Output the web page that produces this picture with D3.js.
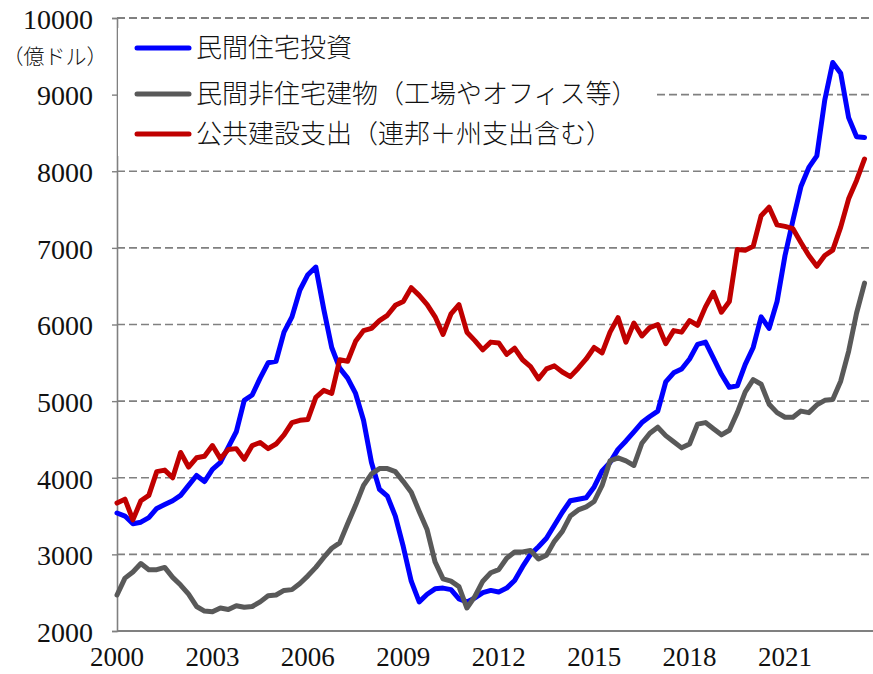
<!DOCTYPE html>
<html>
<head>
<meta charset="utf-8">
<script src="https://cdn.jsdelivr.net/npm/d3@7"></script>
<style>
  body { margin: 0; background: #fff; }
  .num { font-family: "Liberation Serif", "Times New Roman", serif; fill: #111; }
  .jp { font-family: "Noto Sans CJK JP", sans-serif; font-weight: 300; fill: #111; }
</style>
</head>
<body>
<svg id="chart" width="873" height="674"></svg>
<script>
// 四半期データ (2000年1-3月 から), 単位: 億ドル
const startYear = 2000
const perYear = 4

// 民間住宅投資
const residential = [
  3540, 3500, 3400, 3420, 3480, 3600, 3650, 3700, 3770, 3900, 4030, 3950,
  4110, 4200, 4400, 4600, 5010, 5080, 5300, 5500, 5520, 5900, 6100, 6450,
  6650, 6750, 6200, 5700, 5430, 5300, 5100, 4750, 4200, 3850, 3760, 3500,
  3100, 2650, 2380, 2480, 2550, 2560, 2540, 2420, 2380, 2430, 2500, 2530,
  2510, 2560, 2660, 2840, 3000, 3100, 3210, 3380, 3550, 3700, 3720, 3740,
  3880, 4090, 4200, 4370, 4480, 4600, 4720, 4800, 4870, 5250, 5370, 5420,
  5550, 5740, 5770, 5560, 5350, 5180, 5200, 5480, 5700, 6100, 5950, 6300,
  6900, 7360, 7800, 8050, 8200, 8930, 9420, 9280, 8700, 8450, 8440
]
// 民間非住宅建物
const nonResidential = [
  2470, 2690, 2770, 2880, 2800, 2800, 2830, 2700, 2600, 2480, 2320, 2260,
  2250, 2300, 2280, 2330, 2310, 2320, 2380, 2460, 2470, 2530, 2540, 2620,
  2720, 2830, 2960, 3080, 3150, 3400, 3640, 3900, 4050, 4120, 4120, 4080,
  3950, 3810, 3560, 3320, 2900, 2680, 2650, 2580, 2300, 2450, 2650, 2760,
  2800, 2950, 3030, 3030, 3050, 2940, 2990, 3170, 3300, 3500, 3580, 3620,
  3690, 3900, 4220, 4260, 4220, 4160, 4450, 4580, 4660, 4550, 4470, 4390,
  4440, 4700, 4720, 4640, 4560, 4620, 4850, 5120, 5280, 5220, 4960, 4850,
  4790, 4790, 4870, 4850, 4950, 5010, 5020, 5260, 5650, 6150, 6540
]
// 公共建設支出
const publicWorks = [
  3670, 3720, 3450, 3700, 3770, 4080, 4100, 4000, 4330, 4140, 4260, 4280,
  4420, 4250, 4370, 4380, 4240, 4420, 4460, 4380, 4440, 4560, 4720, 4750,
  4760, 5050, 5140, 5100, 5540, 5520, 5780, 5920, 5950, 6050, 6120, 6250,
  6300, 6480, 6380, 6260, 6100, 5870, 6140, 6260, 5900, 5790, 5670, 5770,
  5760, 5610, 5690, 5540, 5450, 5290, 5420, 5460, 5380, 5320, 5430, 5550,
  5700, 5630, 5900, 6090, 5770, 6020, 5850, 5960, 6000, 5750, 5920, 5900,
  6050, 5990, 6230, 6420, 6160, 6300, 6980, 6970, 7020, 7420, 7530, 7300,
  7280, 7250, 7070, 6900, 6760, 6900, 6970, 7270, 7640, 7880, 8160
]

const seriesNames = [
  '民間住宅投資',
  '民間非住宅建物（工場やオフィス等）',
  '公共建設支出（連邦＋州支出含む）'
]
const seriesColors = ['#0000ff', '#595959', '#c00000']
const xTicks = [2000, 2003, 2006, 2009, 2012, 2015, 2018, 2021]
const yTicks = [2000, 3000, 4000, 5000, 6000, 7000, 8000, 9000, 10000]
const unitLabel = '（億ドル）'

const svg = d3.select('#chart')
const plot = { l: 117, r: 872, t: 18, b: 631 }

const x = d3.scaleLinear()
  .domain([2000, 2000 + (plot.r - plot.l) / 31.81])
  .range([plot.l, plot.r])
const y = d3.scaleLinear()
  .domain([2000, 10000])
  .range([plot.b, plot.t])

// グリッド線
svg.append('g')
  .selectAll('line')
  .data(yTicks.filter(d => d > 2000))
  .enter()
  .append('line')
  .attr('x1', plot.l)
  .attr('x2', plot.r + 1)
  .attr('y1', d => y(d))
  .attr('y2', d => y(d))
  .attr('stroke', '#808080')
  .attr('stroke-width', d => d === 10000 ? 2.2 : 1.6)
  .attr('stroke-dasharray', '8,4')

// 縦軸
const yAxis = d3.axisLeft(y).tickValues(yTicks).tickSize(5).tickFormat('')
const gy = svg.append('g')
  .attr('transform', 'translate(' + plot.l + ',0)')
  .call(yAxis)
gy.select('.domain').attr('stroke', '#808080').attr('stroke-width', 1.6)
gy.selectAll('.tick line').attr('stroke', '#808080').attr('stroke-width', 1.4)

svg.append('g')
  .selectAll('text')
  .data(yTicks)
  .enter()
  .append('text')
  .attr('class', 'num')
  .attr('x', 93)
  .attr('y', d => y(d) + 1)
  .attr('dy', '0.35em')
  .attr('text-anchor', 'end')
  .style('font-size', '28px')
  .text(d => d)

svg.append('text')
  .attr('class', 'jp')
  .attr('x', 55)
  .attr('y', 57)
  .attr('dy', '0.35em')
  .attr('text-anchor', 'middle')
  .style('font-size', '21px')
  .text(unitLabel)

// 横軸
svg.append('line')
  .attr('x1', plot.l).attr('x2', plot.r + 1)
  .attr('y1', plot.b).attr('y2', plot.b)
  .attr('stroke', '#808080')
  .attr('stroke-width', 1.8)

svg.append('g')
  .selectAll('text')
  .data(xTicks)
  .enter()
  .append('text')
  .attr('class', 'num')
  .attr('x', d => x(d))
  .attr('y', 657)
  .attr('dy', '0.35em')
  .attr('text-anchor', 'middle')
  .style('font-size', '27px')
  .text(d => d)

// 凡例の背景
svg.append('rect')
  .attr('x', plot.l + 1)
  .attr('y', 28)
  .attr('width', 535)
  .attr('height', 128)
  .attr('fill', '#fff')

// 折れ線
const allSeries = [residential, nonResidential, publicWorks]
const line = d3.line()
  .x((d, i) => x(startYear + i / perYear))
  .y(d => y(d))

svg.append('g')
  .selectAll('path')
  .data(allSeries)
  .enter()
  .append('path')
  .attr('d', d => line(d))
  .attr('fill', 'none')
  .attr('stroke', (d, i) => seriesColors[i])
  .attr('stroke-width', 5)
  .attr('stroke-linejoin', 'round')
  .attr('stroke-linecap', 'round')

// 凡例
const legendY = [48, 94, 134]
const legend = svg.append('g')
  .selectAll('g')
  .data(seriesNames)
  .enter()
  .append('g')
  .attr('transform', (d, i) => 'translate(0,' + legendY[i] + ')')

legend.append('line')
  .attr('x1', 137).attr('x2', 189)
  .attr('stroke', (d, i) => seriesColors[i])
  .attr('stroke-width', 5)
  .attr('stroke-linecap', 'round')

legend.append('text')
  .attr('class', 'jp')
  .attr('x', 196)
  .attr('dy', '0.36em')
  .style('font-size', '26px')
  .text(d => d)
</script>
</body>
</html>
